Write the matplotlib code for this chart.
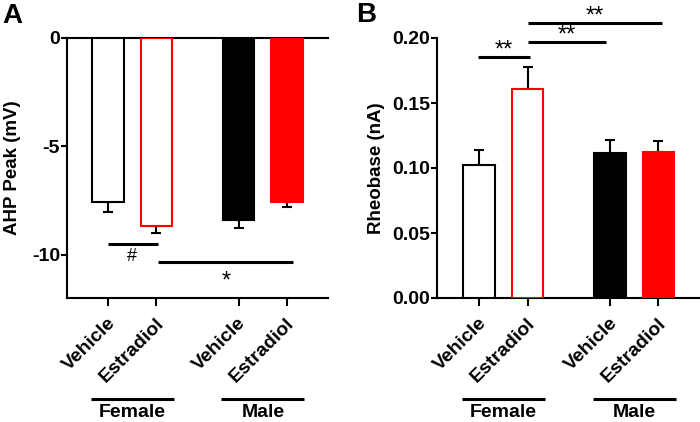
import matplotlib
matplotlib.use('Agg')
import matplotlib.pyplot as plt
from matplotlib.transforms import blended_transform_factory, ScaledTranslation
from matplotlib.ticker import FormatStrFormatter

plt.rcParams['font.family'] = ['Liberation Sans', 'DejaVu Sans']
plt.rcParams['font.weight'] = 'bold'

# ---- data ----
conditions = ['Vehicle', 'Estradiol', 'Vehicle', 'Estradiol']
groups = ['Female', 'Male']
positions = [1, 2, 3.7, 4.7]
group_centers = [1.5, 4.2]

ahp_mean = [-7.57, -8.67, -8.39, -7.57]
ahp_sem = [0.46, 0.33, 0.37, 0.23]

rheo_mean = [0.102, 0.161, 0.1115, 0.112]
rheo_sem = [0.012, 0.017, 0.010, 0.009]

face_colors = ['white', 'white', 'black', '#ff0000']
edge_colors = ['black', '#ff0000', 'black', '#ff0000']

# significance: (x_start, x_end, y, label, text_x)
ahp_sig = [(1.0, 2.03, -9.5, '#', 1.5), (2.03, 4.82, -10.32, '*', 3.44)]
rheo_sig = [(0.98, 2.05, 0.1854, '**', 1.5),
            (2.01, 3.62, 0.197, '**', 2.82),
            (2.01, 4.78, 0.2115, '**', 3.38)]

W, H = 700, 422
fig = plt.figure(figsize=(7.0, 4.22), dpi=100)

axA = fig.add_axes([67 / W, (H - 298) / H, (328 - 67) / W, 260 / H])
axB = fig.add_axes([437 / W, (H - 298) / H, (702 - 437) / W, 260 / H])

LW = 1.5
bar_w = 0.65

for ax in (axA, axB):
    for s in ax.spines.values():
        s.set_linewidth(LW)
    ax.spines['right'].set_visible(False)
    ax.tick_params(axis='both', width=LW, length=4, labelsize=14, pad=1)
    ax.set_xticks(positions)
    ax.set_xticklabels(conditions, rotation=45, ha='right', va='center',
                       rotation_mode='anchor', fontsize=14, fontweight='bold')
    ax.tick_params(axis='x', pad=11, length=5.5)
    shift = ScaledTranslation(3.5 / 72, 0, fig.dpi_scale_trans)
    for lbl in ax.get_xticklabels():
        lbl.set_transform(lbl.get_transform() + shift)
    for lbl in ax.get_yticklabels():
        lbl.set_fontweight('bold')

# Panel A
axA.spines['top'].set_visible(True)
axA.bar(positions, ahp_mean, width=bar_w, color=face_colors,
        edgecolor=edge_colors, linewidth=LW, zorder=3)
axA.errorbar(positions, ahp_mean, yerr=[ahp_sem, [0] * 4], fmt='none',
             ecolor='black', elinewidth=LW, capsize=3.5, capthick=LW, zorder=2)
axA.set_xlim(0.153, 5.547)
axA.set_ylim(-12, 0)
axA.set_yticks([0, -5, -10])
axA.set_yticklabels(['0', '-5', '-10'], fontweight='bold')
axA.set_ylabel('AHP Peak (mV)', fontsize=13.5, fontweight='bold')
axA.yaxis.set_label_coords(-0.178, 0.5)
for x0, x1, y, lab, tx in ahp_sig:
    axA.plot([x0, x1], [y, y], color='black', lw=2.2, clip_on=False, zorder=4,
             solid_capstyle='butt')
axA.annotate('#', (ahp_sig[0][4], ahp_sig[0][2]), xytext=(0, -12.3),
             textcoords='offset points', ha='center', va='baseline',
             fontsize=13, fontweight='normal')
axA.annotate('*', (ahp_sig[1][4], ahp_sig[1][2]), xytext=(0, -19),
             textcoords='offset points', ha='center', va='baseline',
             fontsize=17, fontweight='normal')

# Panel B
axB.spines['top'].set_visible(False)
axB.bar(positions, rheo_mean, width=bar_w, color=face_colors,
        edgecolor=edge_colors, linewidth=LW, zorder=3)
axB.errorbar(positions, rheo_mean, yerr=[[0] * 4, rheo_sem], fmt='none',
             ecolor='black', elinewidth=LW, capsize=3.5, capthick=LW, zorder=2)
axB.set_xlim(0.132, 5.6)
axB.set_ylim(0, 0.2)
axB.set_yticks([0, 0.05, 0.10, 0.15, 0.20])
axB.yaxis.set_major_formatter(FormatStrFormatter('%.2f'))
axB.set_ylabel('Rheobase (nA)', fontsize=13.5, fontweight='bold')
axB.yaxis.set_label_coords(-0.196, 0.5)
for x0, x1, y, lab, tx in rheo_sig:
    axB.plot([x0, x1], [y, y], color='black', lw=2.2, clip_on=False, zorder=4,
             solid_capstyle='butt')
    axB.annotate(lab, (tx, y), xytext=(0, 0.5), textcoords='offset points',
                 ha='center', va='baseline', fontsize=17, fontweight='normal',
                 annotation_clip=False)

# group labels under the tick labels
for ax in (axA, axB):
    tr = blended_transform_factory(ax.transData, fig.transFigure)
    for gc, g in zip(group_centers, groups):
        ax.plot([gc - 0.855, gc + 0.855], [(H - 399) / H] * 2, color='black',
                lw=2.2, transform=tr, clip_on=False, solid_capstyle='butt')
        ax.text(gc, 0.011, g, transform=tr, ha='center', va='baseline',
                fontsize=14, fontweight='bold')

fig.text(2 / W, (H - 23) / H, 'A', fontsize=20, fontweight='bold', va='baseline')
fig.text(356 / W, (H - 22) / H, 'B', fontsize=20, fontweight='bold', va='baseline')

fig.savefig('out.png', dpi=100)
